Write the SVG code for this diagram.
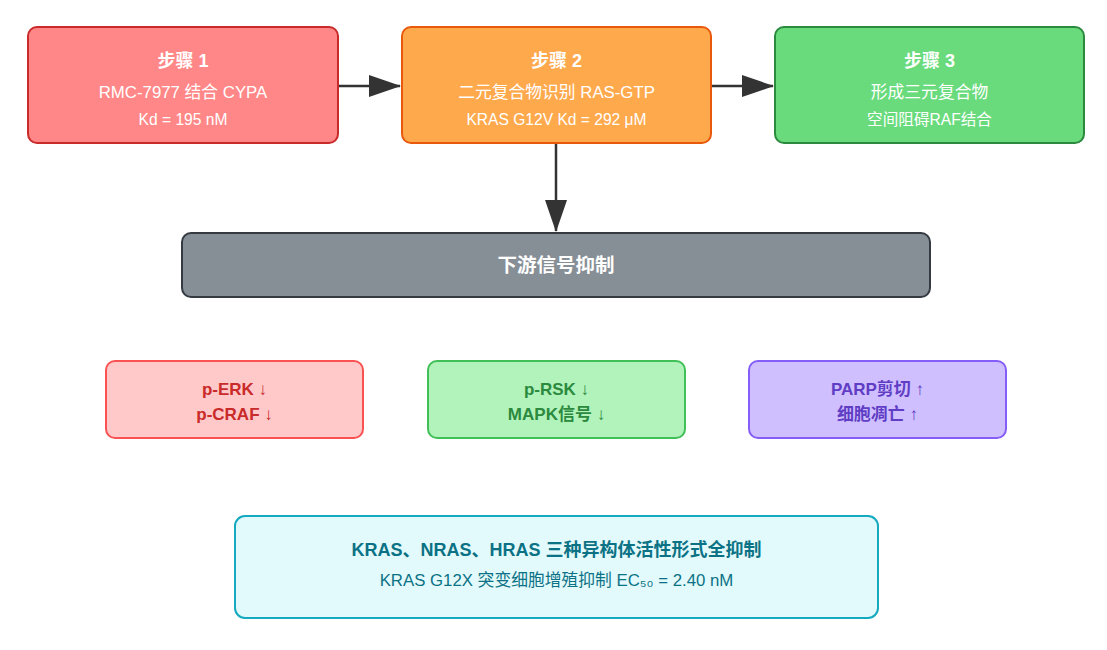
<svg xmlns="http://www.w3.org/2000/svg" width="1107" height="650" viewBox="0 0 1107 650">
<defs>
<marker id="arr" viewBox="0 0 32 22" refX="31" refY="11" markerWidth="32" markerHeight="22" markerUnits="userSpaceOnUse" orient="auto">
<path d="M0,0 L32,11 L0,22 Z" fill="#333"/>
</marker>
</defs>
<style>
text{font-family:"Liberation Sans","Noto Sans CJK SC",sans-serif;text-anchor:middle}
.w{fill:#fff}
.t{font-size:18px;font-weight:bold}
.s{font-size:16.8px}
.x{font-size:15.6px}
.b{font-size:17px;font-weight:bold}
.ln{stroke:#333;stroke-width:2.5;fill:none}
</style>
<rect width="1107" height="650" fill="#fff"/>
<g id="connectors">
<line class="ln" x1="339" y1="86" x2="400" y2="86" marker-end="url(#arr)"/>
<line class="ln" x1="712" y1="86" x2="773" y2="86" marker-end="url(#arr)"/>
<line class="ln" x1="556" y1="144" x2="556" y2="231" marker-end="url(#arr)"/>
</g>
<g id="step1">
<rect x="28" y="27" width="310" height="116" rx="9" fill="#ff8787" stroke="#c92a2a" stroke-width="2"/>
<text class="w t" x="183" y="66.5">步骤 1</text>
<text class="w s" x="183" y="98">RMC-7977 结合 CYPA</text>
<text class="w x" x="183" y="124.5">Kd = 195 nM</text>
</g>
<g id="step2">
<rect x="402" y="27" width="309" height="116" rx="9" fill="#ffa94d" stroke="#e8590c" stroke-width="2"/>
<text class="w t" x="556.5" y="66.5">步骤 2</text>
<text class="w s" x="556.5" y="98">二元复合物识别 RAS-GTP</text>
<text class="w x" x="556.5" y="124.5">KRAS G12V Kd = 292 μM</text>
</g>
<g id="step3">
<rect x="775" y="27" width="309" height="116" rx="9" fill="#69db7c" stroke="#2b8a3e" stroke-width="2"/>
<text class="w t" x="929.5" y="66.5">步骤 3</text>
<text class="w s" x="929.5" y="98">形成三元复合物</text>
<text class="w x" x="929.5" y="124.5">空间阻碍RAF结合</text>
</g>
<g id="downstream">
<rect x="182" y="233" width="748" height="64" rx="9" fill="#868e96" stroke="#343a40" stroke-width="2"/>
<text class="w" x="556" y="272" font-size="19.5" font-weight="bold">下游信号抑制</text>
</g>
<g id="erk">
<rect x="106" y="361" width="257" height="77" rx="9" fill="#ffc9c9" stroke="#fa5252" stroke-width="2"/>
<text class="b" x="234.5" y="395" fill="#c92a2a">p-ERK ↓</text>
<text class="b" x="234.5" y="420" fill="#c92a2a">p-CRAF ↓</text>
</g>
<g id="rsk">
<rect x="428" y="361" width="257" height="77" rx="9" fill="#b2f2bb" stroke="#40c057" stroke-width="2"/>
<text class="b" x="556.5" y="395" fill="#2b8a3e">p-RSK ↓</text>
<text class="b" x="556.5" y="420" fill="#2b8a3e">MAPK信号 ↓</text>
</g>
<g id="parp">
<rect x="749" y="361" width="257" height="77" rx="9" fill="#d0bfff" stroke="#845ef7" stroke-width="2"/>
<text class="b" x="877.5" y="395" fill="#5f3dc4">PARP剪切 ↑</text>
<text class="b" x="877.5" y="420" fill="#5f3dc4">细胞凋亡 ↑</text>
</g>
<g id="summary">
<rect x="235" y="516" width="643" height="102" rx="10" fill="#e3fafc" stroke="#15aabf" stroke-width="2"/>
<text x="556.5" y="555.5" font-size="18" font-weight="bold" fill="#0b7285">KRAS、NRAS、HRAS 三种异构体活性形式全抑制</text>
<text x="556.5" y="586" font-size="16.8" fill="#0b7285">KRAS G12X 突变细胞增殖抑制 EC₅₀ = 2.40 nM</text>
</g>
</svg>
